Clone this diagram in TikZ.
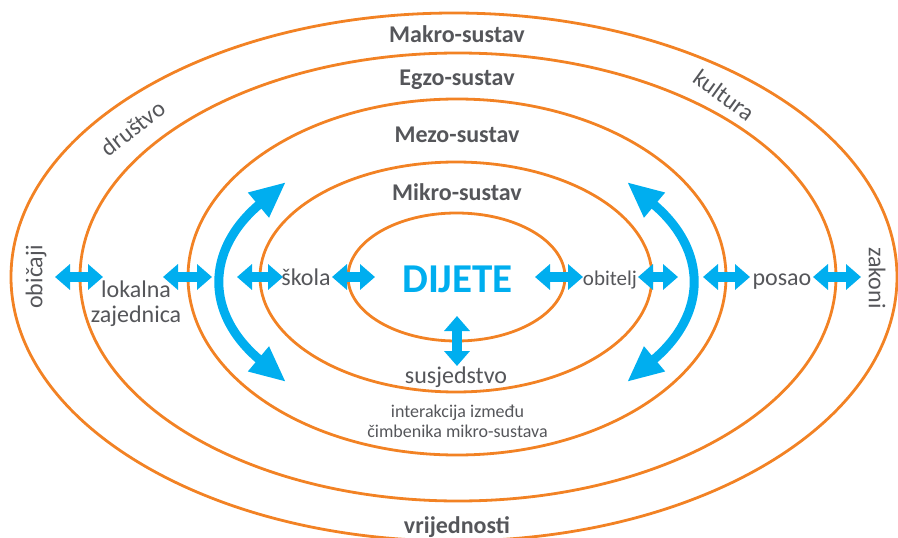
\documentclass[tikz,border=0pt]{standalone}
\usepackage{fontspec}
\setmainfont{Carlito}
\usetikzlibrary{arrows.meta}
\definecolor{rim}{RGB}{242,130,36}
\definecolor{sky}{RGB}{0,174,239}
\definecolor{ink}{RGB}{85,86,90}
\tikzset{
  ring/.style={draw=rim,line width=2.8pt},
  sys/.style={font=\fontsize{24}{28}\selectfont\bfseries,text=ink,anchor=base},
  word/.style={font=\fontsize{24}{25}\selectfont,text=ink,align=center},
  note/.style={font=\fontsize{18}{20}\selectfont,text=ink,align=center},
  link/.style={draw=sky,line width=9.5pt,
    {Triangle[length=15pt,width=25pt]}-{Triangle[length=15pt,width=25pt]}},
  swing/.style={draw=sky,line width=9pt,
    {Triangle[length=36pt,width=30pt]}-{Triangle[length=36pt,width=30pt]}},
}
\begin{document}
\begin{tikzpicture}[x=1pt,y=-1pt]
  \useasboundingbox (0,0) rectangle (898,538);
  % rings
  \draw[ring] (454,277) ellipse [x radius=443,y radius=264];
  \draw[ring] (458,277) ellipse [x radius=378,y radius=224];
  \draw[ring] (457,277) ellipse [x radius=269,y radius=178];
  \draw[ring] (456,277) ellipse [x radius=196,y radius=115];
  \draw[ring] (456.5,277) ellipse [x radius=108.5,y radius=64];
  % system names
  \node[sys] (makro) at (457,42) {Makro-sustav};
  \node[sys] (egzo) at (457,85) {Egzo-sustav};
  \node[sys] (mezo) at (457,142) {Mezo-sustav};
  \node[sys] (mikro) at (457,200) {Mikro-sustav};
  \node[sys] (vrij) at (457,533) {vrijednosti};
  \node[font=\fontsize{41}{44}\selectfont\bfseries,text=sky,anchor=base] (dijete) at (457.5,292) {DIJETE};
  % factors
  \node[word,anchor=base] (skola) at (306,285) {škola};
  \node[word,anchor=base,font=\fontsize{21}{24}\selectfont] (obitelj) at (610,285) {obitelj};
  \node[word,anchor=base] (posao) at (782,285) {posao};
  \node[word,anchor=base] (susj) at (456,383) {susjedstvo};
  \node[word] (lokal) at (136,304) {lokalna\\zajednica};
  \node[note] (inter) at (457.5,421) {interakcija između\\čimbenika mikro-sustava};
  \node[word,rotate=90] (obicaji) at (36,277) {običaji};
  \node[word,rotate=-90] (zakoni) at (877,278) {zakoni};
  \node[word,rotate=37.6] (drustvo) at (133,128) {društvo};
  \node[word,rotate=-36] (kultura) at (724,95) {kultura};
  % arrows
  \foreach \i/\a/\b in {1/55/103,2/163/212,3/237/283,4/332/375,5/535/583,6/638/678,7/703/750,8/813/861}{
    \coordinate (h\i-l) at (\a,277);
    \coordinate (h\i-r) at (\b,277);
    \draw[link] (h\i-l) -- (h\i-r);
  }
  \coordinate (v-t) at (457,316);
  \coordinate (v-b) at (457,366);
  \draw[link] (v-t) -- (v-b);
  \coordinate (l-top) at (286,182);
  \coordinate (l-bot) at (286,382);
  \draw[swing] (l-top) .. controls (205,250) and (205,314) .. (l-bot);
  \coordinate (r-top) at (627,182);
  \coordinate (r-bot) at (627,382);
  \draw[swing] (r-top) .. controls (708,250) and (708,314) .. (r-bot);
\end{tikzpicture}
\end{document}
